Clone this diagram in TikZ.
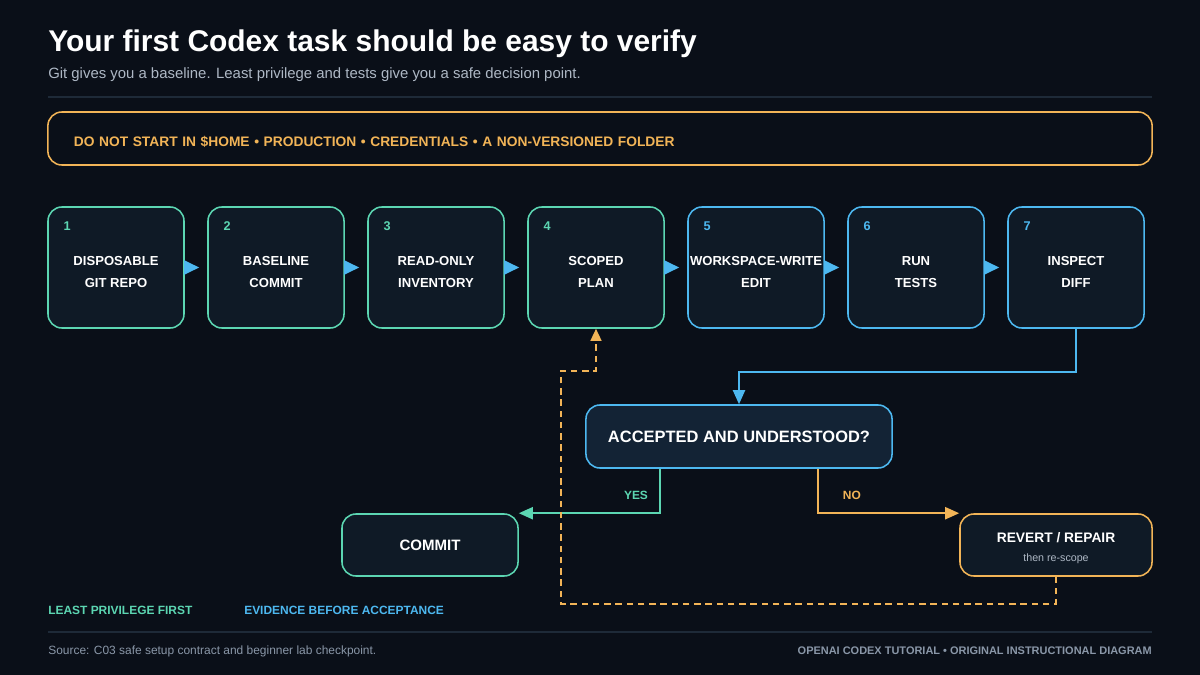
\documentclass[tikz,border=0pt]{standalone}
\usepackage{fontspec}
\setmainfont{Liberation Sans}
\usepackage{xcolor}
\usepackage{tikz}
\usetikzlibrary{arrows.meta}

\definecolor{bgdark}{HTML}{0A0F18}
\definecolor{boxfill}{HTML}{0F1A26}
\definecolor{askfill}{HTML}{132335}
\definecolor{cgreen}{HTML}{5CD6B2}
\definecolor{cblue}{HTML}{4DB8F0}
\definecolor{corange}{HTML}{F2B457}
\definecolor{rulecol}{HTML}{1E2A38}
\definecolor{subgray}{HTML}{AEB8C5}
\definecolor{footgray}{HTML}{8A97A8}

% pushes a label a few px down inside its box
\newcommand{\dropline}[1]{\rule{0pt}{#1}}

\begin{document}
\begin{tikzpicture}[
    x=0.025cm, y=-0.025cm,
    stepbox/.style={
        draw, rounded corners=0.35cm, line width=1.1pt,
        minimum width=3.4cm, minimum height=3.025cm,
        inner sep=0pt, align=center, fill=boxfill, text=white,
        font=\fontsize{9.3}{15.6}\selectfont\bfseries
    },
    endbox/.style={
        draw, rounded corners=0.35cm, line width=1.1pt,
        minimum height=1.55cm, inner sep=0pt, align=center,
        fill=boxfill, text=white
    },
    num/.style={inner sep=0pt, font=\fontsize{9}{10}\selectfont\bfseries},
    tag/.style={inner sep=0pt, font=\fontsize{8.5}{10}\selectfont\bfseries},
    flow/.style={-{Triangle[length=0.375cm, width=0.35cm]}, line width=1.4pt, cblue, shorten >=0.2cm},
    link/.style={-{Triangle[length=0.35cm, width=0.3cm]}, line width=1.4pt}
]

% Page and margins
\fill[bgdark] (0,0) rectangle (1200,675);
\useasboundingbox (0,0) rectangle (1200,675);

% Heading
\node[anchor=base west, inner sep=0pt, text=white, font=\fontsize{21.3}{24}\selectfont\bfseries] (title) at (48,52)
    {Your first Codex task should be easy to verify};
\node[anchor=base west, inner sep=0pt, text=subgray, font=\fontsize{10.6}{12}\selectfont] (sub) at (48,79)
    {Git gives you a baseline. Least privilege and tests give you a safe decision point.};
\draw[rulecol, line width=1.4pt] (48,97) -- (1152,97);

% Warning strip
\node[draw=corange, rounded corners=0.35cm, line width=1.1pt, fill=bgdark,
      text width=26.3cm, inner xsep=0.65cm, minimum height=1.325cm, align=left,
      text=corange, font=\fontsize{9.8}{11}\selectfont\bfseries] (warn) at (600,138.5)
    {\dropline{11.5pt}DO NOT START IN \$HOME • PRODUCTION • CREDENTIALS • A NON-VERSIONED FOLDER};

% Steps: 1-4 green, 5-7 blue
\node[stepbox, draw=cgreen] (repo)  at (116,267.5) {\dropline{12.5pt}DISPOSABLE\\GIT REPO};
\node[stepbox, draw=cgreen] (base)  at (276,267.5) {\dropline{12.5pt}BASELINE\\COMMIT};
\node[stepbox, draw=cgreen] (inv)   at (436,267.5) {\dropline{12.5pt}READ-ONLY\\INVENTORY};
\node[stepbox, draw=cgreen] (plan)  at (596,267.5) {\dropline{12.5pt}SCOPED\\PLAN};
\node[stepbox, draw=cblue]  (edit)  at (756,267.5) {\dropline{12.5pt}WORKSPACE-WRITE\\EDIT};
\node[stepbox, draw=cblue]  (tests) at (916,267.5) {\dropline{12.5pt}RUN\\TESTS};
\node[stepbox, draw=cblue]  (diff)  at (1076,267.5) {\dropline{12.5pt}INSPECT\\DIFF};

\node[num, text=cgreen] (n1) at ([shift={(20,20)}]repo.north west)  {1};
\node[num, text=cgreen] (n2) at ([shift={(20,20)}]base.north west)  {2};
\node[num, text=cgreen] (n3) at ([shift={(20,20)}]inv.north west)   {3};
\node[num, text=cgreen] (n4) at ([shift={(20,20)}]plan.north west)  {4};
\node[num, text=cblue]  (n5) at ([shift={(20,20)}]edit.north west)  {5};
\node[num, text=cblue]  (n6) at ([shift={(20,20)}]tests.north west) {6};
\node[num, text=cblue]  (n7) at ([shift={(20,20)}]diff.north west)  {7};

\draw[flow] (repo) -- (base);
\draw[flow] (base) -- (inv);
\draw[flow] (inv) -- (plan);
\draw[flow] (plan) -- (edit);
\draw[flow] (edit) -- (tests);
\draw[flow] (tests) -- (diff);

% Decision and outcomes
\node[endbox, draw=cblue, fill=askfill, minimum width=7.65cm, minimum height=1.575cm,
      font=\fontsize{11.7}{14}\selectfont\bfseries] (check) at (739,436.5) {ACCEPTED AND UNDERSTOOD?};
\node[endbox, draw=cgreen, minimum width=4.4cm,
      font=\fontsize{10.7}{13}\selectfont\bfseries] (commit) at (430,545) {COMMIT};
\node[endbox, draw=corange, minimum width=4.8cm,
      font=\fontsize{9.8}{14}\selectfont\bfseries] (revert) at (1056,545)
    {\dropline{11.5pt}REVERT / REPAIR\\[-1pt]{\fontsize{7.6}{9}\selectfont\mdseries\color{subgray}then re-scope}};

\draw[link, cblue] (diff.south) -- ++(0,43) -| (check.north);
\draw[link, cgreen] ([shift={(-79,0)}]check.south) |- node[tag, pos=0.585, above=9pt, text=cgreen] (yes) {YES} (commit.north east);
\draw[link, corange] ([shift={(79,0)}]check.south) |- node[tag, pos=0.62, above=9pt, text=corange] (no) {NO} (revert.north west);

% Loop back to planning
\draw[-{Triangle[length=0.3cm, width=0.27cm]}, corange, line width=1.4pt, dash pattern=on 4.5pt off 3.5pt]
    (revert.south) -- ++(0,27) -- ++(-495,0) -- ++(0,-233) -| (plan.south);

% Legend
\node[tag, anchor=base west, text=cgreen] (lg1) at (48,614) {LEAST PRIVILEGE FIRST};
\node[tag, anchor=base west, text=cblue]  (lg2) at (244,614) {EVIDENCE BEFORE ACCEPTANCE};

% Footer
\draw[rulecol, line width=1.4pt] (48,632) -- (1152,632);
\node[anchor=base west, inner sep=0pt, text=footgray, font=\fontsize{8.5}{9}\selectfont] (src) at (48,654)
    {Source: C03 safe setup contract and beginner lab checkpoint.};
\node[anchor=base east, inner sep=0pt, text=footgray, font=\fontsize{7.8}{9}\selectfont\bfseries] (brand) at (1152,654)
    {OPENAI CODEX TUTORIAL • ORIGINAL INSTRUCTIONAL DIAGRAM};

\end{tikzpicture}
\end{document}
